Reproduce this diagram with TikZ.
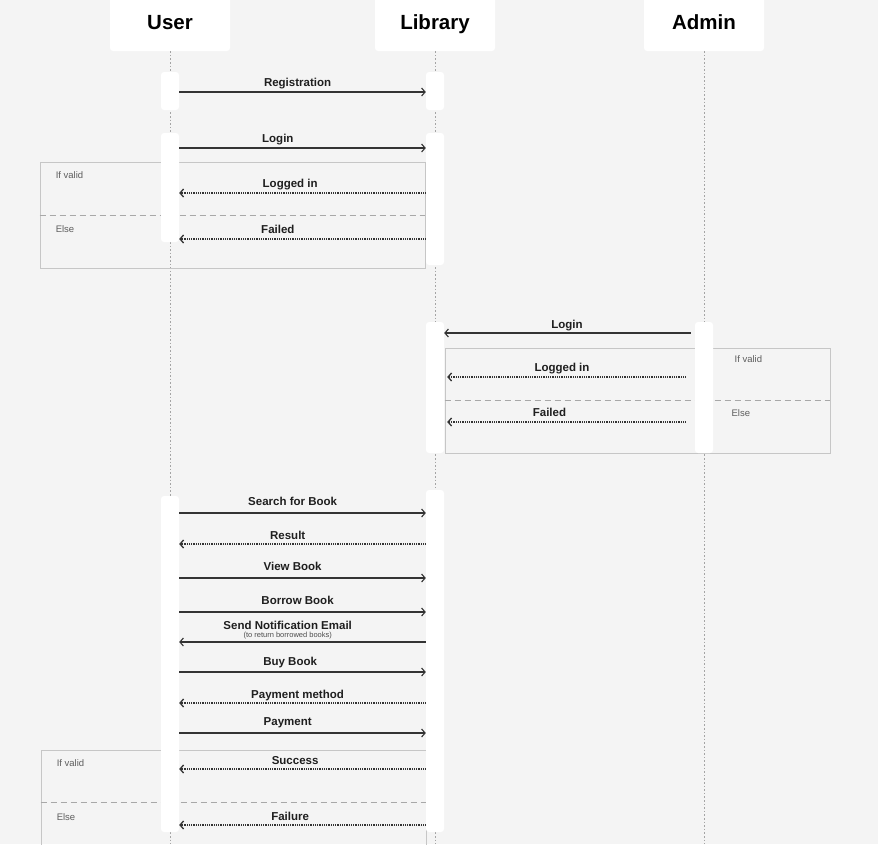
\documentclass[tikz,border=0pt]{standalone}
\usepackage{fontspec}
\setmainfont{Liberation Sans}
\usetikzlibrary{arrows.meta, positioning}

\definecolor{bgc}{HTML}{F4F4F4}
\definecolor{linec}{HTML}{333333}
\definecolor{framec}{HTML}{C6C6C6}
\definecolor{lifec}{HTML}{A4A4A4}
\definecolor{condc}{HTML}{5E5E5E}

\begin{document}
\begin{tikzpicture}[x=1pt, y=-1pt,
  actor/.style={rectangle, fill=white, rounded corners=3pt, minimum width=120pt,
    minimum height=58pt, text height=14.5pt, text depth=0pt, inner sep=0pt,
    font=\fontsize{20.5}{23}\selectfont\bfseries},
  lifeline/.style={draw=lifec, line width=0.9pt, dash pattern=on 1.6pt off 2pt},
  bar/.style={rectangle, fill=white, rounded corners=3pt, minimum width=18pt, inner sep=0pt},
  frame/.style={rectangle, draw=framec, line width=0.9pt, minimum width=385pt, inner sep=0pt},
  divider/.style={draw=framec!85!black, line width=0.9pt, dash pattern=on 6pt off 4pt},
  cond/.style={font=\fontsize{9.5}{10}\selectfont, text=condc, anchor=west, inner sep=0pt},
  call/.style={draw=linec, line width=1.1pt, -{Straight Barb[length=3.5pt, width=8pt]}},
  reply/.style={draw=linec, line width=1.2pt, dash pattern=on 1pt off 0.8pt,
    -{Straight Barb[length=3.5pt, width=8pt, line width=1.3pt]}},
  msg/.style={font=\fontsize{11.5}{13}\selectfont\bfseries, text=black!88, anchor=base,
    yshift=#1, inner sep=0pt},
  msg/.default=5.5pt,
  note/.style={font=\fontsize{7.5}{8}\selectfont, text=black!70, anchor=base, yshift=4.5pt, inner sep=0pt}]

  \clip (0,0) rectangle (878,844);
  \fill[bgc] (0,0) rectangle (878,844);

  \node[actor] (user) at (170,22) {User};
  \node[actor] (library) at (435,22) {Library};
  \node[actor] (admin) at (704,22) {Admin};

  \coordinate (ue) at (170,844);
  \coordinate (le) at (435,844);
  \coordinate (ae) at (704,844);
  \draw[lifeline] (user) -- (ue);
  \draw[lifeline] (library) -- (le);
  \draw[lifeline] (admin) -- (ae);

  % alt frames
  \node[frame, minimum height=106pt] (f1) at (232.5,215) {};
  \node[frame, minimum height=105pt] (f2) at (637.5,400.5) {};
  \node[frame, minimum height=104pt] (f3) at (233.5,802) {};
  \draw[divider] (f1.west) -- (f1.east);
  \draw[divider] (f2.west) -- (f2.east);
  \draw[divider] (f3.west) -- (f3.east);

  \node[cond] (c1) at ([shift={(16,14)}]f1.north west) {If valid};
  \node[cond] (c2) at ([shift={(16,14)}]f1.west) {Else};
  \node[cond] (c3) at ([shift={(-96,12)}]f2.north east) {If valid};
  \node[cond] (c4) at ([shift={(-99,12.5)}]f2.east) {Else};
  \node[cond] (c5) at ([shift={(16,14)}]f3.north west) {If valid};
  \node[cond] (c6) at ([shift={(16,15)}]f3.west) {Else};

  % activation bars
  \node[bar, minimum height=38pt] (u1) at (170,91) {};
  \node[bar, minimum height=38pt] (l1) at (435,91) {};
  \node[bar, minimum height=109pt] (u2) at (170,187.5) {};
  \node[bar, minimum height=132pt] (l2) at (435,199) {};
  \node[bar, minimum height=131pt] (l3) at (435,387.5) {};
  \node[bar, minimum height=131pt] (a3) at (704,387.5) {};
  \node[bar, minimum height=336pt] (u4) at (170,664) {};
  \node[bar, minimum height=342pt] (l4) at (435,661) {};

  \foreach \n/\y in {1/92, 2/148, 3/193, 4/239, 5/333, 6/377, 7/422, 8/513, 9/544,
    10/578, 11/612, 12/642, 13/672, 14/703, 15/733, 16/769, 17/825}
    \coordinate (m\n) at (0,\y);

  \draw[call] (u1.east |- m1) -- (l1.west |- m1) node[msg, pos=.48] {Registration};
  \draw[call] (u2.east |- m2) -- (l2.west |- m2) node[msg, pos=.40] {Login};
  \draw[reply] (l2.west |- m3) -- (u2.east |- m3) node[msg, pos=.55] {Logged in};
  \draw[reply] (l2.west |- m4) -- (u2.east |- m4) node[msg, pos=.60] {Failed};

  \draw[call, shorten <=4pt] (a3.west |- m5) -- (l3.east |- m5) node[msg=4.5pt, pos=.51] {Login};
  \draw[reply, shorten <=9pt, shorten >=3pt] (a3.west |- m6) -- (l3.east |- m6) node[msg, pos=.53] {Logged in};
  \draw[reply, shorten <=9pt, shorten >=3pt] (a3.west |- m7) -- (l3.east |- m7) node[msg, pos=.58] {Failed};

  \draw[call] (u4.east |- m8) -- (l4.west |- m8) node[msg=7.5pt, pos=.46] {Search for Book};
  \draw[reply] (l4.west |- m9) -- (u4.east |- m9) node[msg=4.5pt, pos=.56] {Result};
  \draw[call] (u4.east |- m10) -- (l4.west |- m10) node[msg=7.5pt, pos=.46] {View Book};
  \draw[call] (u4.east |- m11) -- (l4.west |- m11) node[msg=7.5pt, pos=.48] {Borrow Book};
  \draw[call] (l4.west |- m12) -- (u4.east |- m12)
    node[msg=13pt, pos=.56] (send) {Send Notification Email}
    node[note, pos=.56] (sendnote) {(to return borrowed books)};
  \draw[call] (u4.east |- m13) -- (l4.west |- m13) node[msg=7pt, pos=.45] {Buy Book};
  \draw[reply] (l4.west |- m14) -- (u4.east |- m14) node[msg=4.5pt, pos=.52] {Payment method};
  \draw[call] (u4.east |- m15) -- (l4.west |- m15) node[msg=7.5pt, pos=.44] {Payment};
  \draw[reply] (l4.west |- m16) -- (u4.east |- m16) node[msg=4.5pt, pos=.53] {Success};
  \draw[reply] (l4.west |- m17) -- (u4.east |- m17) node[msg=4.5pt, pos=.55] {Failure};
\end{tikzpicture}
\end{document}
